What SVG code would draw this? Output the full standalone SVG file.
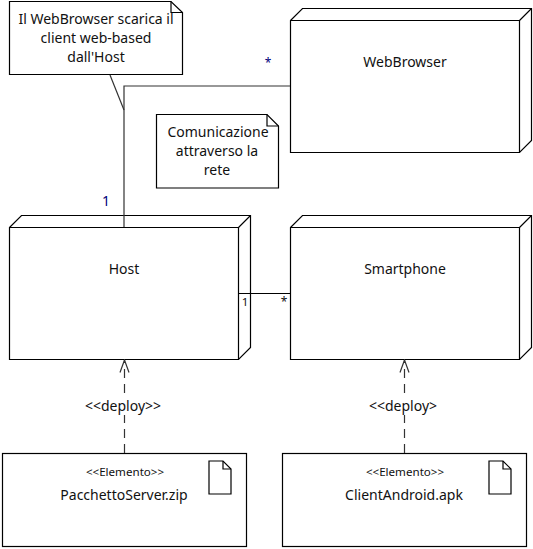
<svg xmlns="http://www.w3.org/2000/svg" width="533" height="549" viewBox="0 0 533 549">
<style>
.s{fill:#fff;stroke:#000;stroke-width:1.2}
.l{fill:none;stroke:#000;stroke-width:1.2}
.e{fill:none;stroke:#333;stroke-width:1.2}
.d{fill:none;stroke:#333;stroke-width:1.2;stroke-dasharray:9 6}
.w{fill:#fff}
text{font-family:"Noto Sans","Open Sans","Liberation Sans",sans-serif;font-size:14px;fill:#111;text-anchor:middle}
.sm{font-size:11.6px}
.st{font-size:12px}
.b{fill:#00007a}
</style>
<defs>
<marker id="open" markerWidth="14" markerHeight="18" refX="12.500" refY="8" orient="auto" markerUnits="userSpaceOnUse">
<path d="M0 3.500L12.500 8L0 12.500" fill="none" stroke="#333" stroke-width="1.2"/>
</marker>
</defs>
<rect width="533" height="549" fill="#fff"/>
<g id="note-webbrowser">
<path class="s" d="M9.500 1.500H171L182.500 12.500V74.500H9.500Z"/>
<path class="l" d="M171 1.500V12.500H182.500"/>
<text x="96" y="24">Il WebBrowser scarica il</text>
<text x="96" y="43">client web-based</text>
<text x="96" y="62">dall'Host</text>
</g>
<g id="note-rete">
<path class="s" d="M156.500 114.500H267L278.500 126V188H156.500Z"/>
<path class="l" d="M267 114.500V126H278.500"/>
<text x="218" y="137">Comunicazione</text>
<text x="217" y="156">attraverso la</text>
<text x="217" y="175">rete</text>
</g>
<g id="node-webbrowser">
<path class="s" d="M290.500 20.500L302.500 8.500H531.500V140.500L519.500 152.500H290.500Z"/>
<path class="l" d="M290.500 20.500H519.500V152.500M519.500 20.500L531.500 8.500"/>
<text x="405" y="67">WebBrowser</text>
</g>
<g id="node-host">
<path class="s" d="M9.500 227.500L21.500 215.500H250.500V347.500L238.500 359.500H9.500Z"/>
<path class="l" d="M9.500 227.500H238.500V359.500M238.500 227.500L250.500 215.500"/>
<text x="124" y="274">Host</text>
</g>
<g id="node-smartphone">
<path class="s" d="M290.500 227.500L302.500 215.500H531.500V347.500L519.500 359.500H290.500Z"/>
<path class="l" d="M290.500 227.500H519.500V359.500M519.500 227.500L531.500 215.500"/>
<text x="405" y="274">Smartphone</text>
</g>
<g id="artifact-server">
<rect class="s" x="2.500" y="453.500" width="244" height="93"/>
<path class="s" d="M209 461H223L231 469V494H209Z"/>
<path class="l" d="M223 461V469H231"/>
<text x="125" y="476" class="sm">&lt;&lt;Elemento&gt;&gt;</text>
<text x="124" y="500">PacchettoServer.zip</text>
</g>
<g id="artifact-client">
<rect class="s" x="282.500" y="453.500" width="244" height="93"/>
<path class="s" d="M489 461H503L511 469V494H489Z"/>
<path class="l" d="M503 461V469H511"/>
<text x="405" y="476" class="sm">&lt;&lt;Elemento&gt;&gt;</text>
<text x="404" y="500">ClientAndroid.apk</text>
</g>
<g id="connectors">
<path class="e" d="M110 75L124 110"/>
<path class="e" d="M124 227V86H290"/>
<path class="l" d="M239 293.500H290"/>
<path class="d" d="M124.500 453V360" marker-end="url(#open)"/>
<path class="d" d="M404.500 453V360" marker-end="url(#open)"/>
<rect class="w" x="84" y="398" width="78" height="17"/>
<rect class="w" x="368" y="398" width="72" height="17"/>
<text x="268" y="66.500" class="b st">*</text>
<text x="106" y="206" class="b">1</text>
<text x="245" y="306" class="sm">1</text>
<text x="284" y="305.500" class="st">*</text>
<text x="123" y="411">&lt;&lt;deploy&gt;&gt;</text>
<text x="403" y="411">&lt;&lt;deploy&gt;</text>
</g>
</svg>
